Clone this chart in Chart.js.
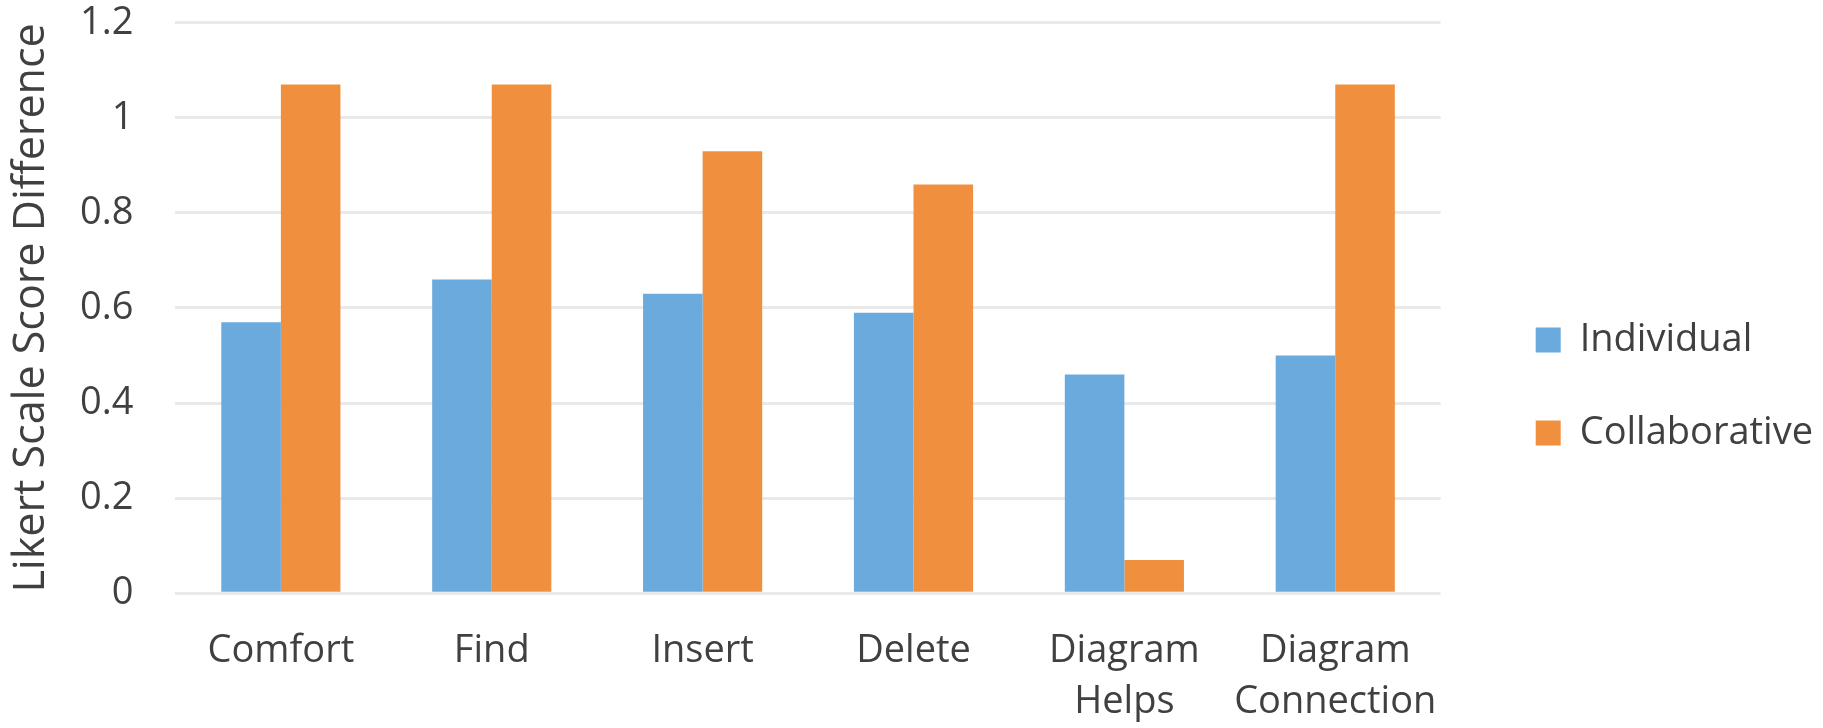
<!DOCTYPE html>
<html>
<head>
<meta charset="utf-8">
<script src="https://cdn.jsdelivr.net/npm/chart.js@4.4.1/dist/chart.umd.min.js"></script>
<style>
  html, body { margin: 0; padding: 0; background: #ffffff; }
  #chart { display: block; }
</style>
</head>
<body>
<canvas id="chart" width="1823" height="728"></canvas>
<script>
// values
var categories = ["Comfort", "Find", "Insert", "Delete", ["Diagram", "Helps"], ["Diagram", "Connection"]];
var individual = [0.57, 0.66, 0.63, 0.59, 0.46, 0.50];
var collaborative = [1.07, 1.07, 0.93, 0.86, 0.07, 1.07];
var seriesNames = ["Individual", "Collaborative"];
var yTicks = [0, 0.2, 0.4, 0.6, 0.8, 1, 1.2];

var blue = "#6BAADC";
var orange = "#F0903F";
var textColor = "#404040";
var fontFamily = "'Open Sans', sans-serif";

var ctx = document.getElementById("chart");
var chart = new Chart(ctx, {
    type: "bar",
    data: {
        labels: categories,
        datasets: [
            {
                label: seriesNames[0],
                data: individual,
                backgroundColor: blue,
                borderWidth: 0,
                categoryPercentage: 0.565,
                barPercentage: 1.0,
            },
            {
                label: seriesNames[1],
                data: collaborative,
                backgroundColor: orange,
                borderWidth: 0,
                categoryPercentage: 0.565,
                barPercentage: 1.0,
            },
        ],
    },
    options: {
        responsive: false,
        animation: false,
        layout: { padding: 0 },
        plugins: {
            tooltip: { enabled: false },
            legend: {
                display: true,
                position: "right",
                align: "center",
                // empty title only pushes the items down a bit
                title: { display: true, text: "", font: { size: 45, lineHeight: 1 }, padding: 0 },
                labels: {
                    boxWidth: 25,
                    boxHeight: 25,
                    padding: 55,
                    color: textColor,
                    font: { family: fontFamily, size: 38 },
                },
            },
        },
        scales: {
            x: {
                grid: { display: false, drawTicks: false },
                border: { display: false },
                ticks: {
                    color: textColor,
                    padding: 33,
                    maxRotation: 0,
                    autoSkip: false,
                    font: { family: fontFamily, size: 38, lineHeight: 1.34 },
                },
                // chart.js counts the tick padding twice
                afterFit: function (scale) {
                    scale.height -= scale.options.ticks.padding;
                },
            },
            y: {
                min: 0,
                max: 1.2,
                afterBuildTicks: function (scale) {
                    scale.ticks = yTicks.map(function (v) { return { value: v }; });
                },
                afterFit: function (scale) {
                    var p = scale.options.ticks.padding;
                    scale.width -= p;
                    scale.paddingTop -= p;
                    scale.paddingBottom -= p;
                },
                grid: { color: "#e9e9e9", lineWidth: 3, drawTicks: false },
                border: { display: false },
                ticks: {
                    color: textColor,
                    padding: 42,
                    font: { family: fontFamily, size: 38 },
                    callback: function (value) {
                        return String(parseFloat(Number(value).toFixed(1)));
                    },
                },
                title: {
                    display: true,
                    text: "Likert Scale Score Difference",
                    color: textColor,
                    padding: { top: 10, bottom: 27 },
                    font: { family: fontFamily, size: 43, lineHeight: 1 },
                },
            },
            // hidden axis, only keeps a gap between plot and legend
            gap: {
                position: "right",
                display: false,
                afterFit: function (scale) { scale.width = 40; },
            },
        },
    },
});
</script>
</body>
</html>
